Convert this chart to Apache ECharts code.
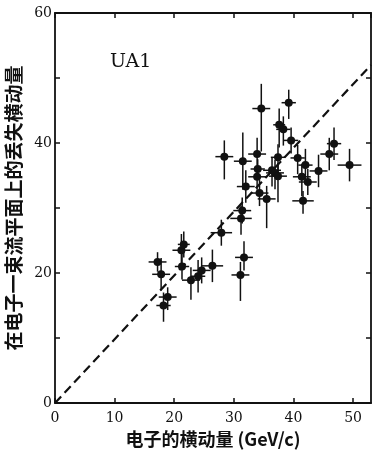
<!DOCTYPE html>
<html>
<head>
<meta charset="utf-8">
<script src="https://cdn.jsdelivr.net/npm/echarts@6/dist/echarts.min.js"></script>
<style>
html,body{margin:0;padding:0;background:#fff;}
#main{width:377px;height:454px;}
</style>
</head>
<body>
<div id="main"></div>
<script>
// electron pT vs missing pT (UA1)
var ptE   = [17.2,17.8,18.2,18.9,21.2,21.6,21.3,22.8,24.0,24.6,26.4,27.9,28.4,31.1,31.7,31.2,31.4,31.5,32.0,33.9,34.0,33.9,34.6,34.3,35.5,36.4,36.9,37.4,37.4,37.6,38.3,39.2,39.6,40.7,41.4,41.6,42.0,42.4,44.2,46.0,46.8,49.4];
var ptMiss= [21.7,19.8,15.0,16.3,23.5,24.4,21.0,18.9,19.5,20.4,21.1,26.2,37.9,19.7,22.4,28.4,29.6,37.2,33.3,38.3,36.0,34.8,45.3,32.3,31.4,35.8,35.4,34.9,37.8,42.8,42.1,46.2,40.4,37.7,34.8,31.1,36.6,34.0,35.7,38.3,39.9,36.6];
var errX  = [1.5,1.5,1.2,1.5,1.5,1.0,1.2,1.5,1.2,1.5,1.8,1.8,1.5,1.5,1.5,1.8,1.5,1.5,1.5,1.5,1.2,1.5,1.5,1.5,1.5,1.5,1.5,1.5,1.2,1.0,1.2,1.2,1.2,1.2,1.5,1.8,1.2,1.5,1.5,1.5,1.2,2.0];
var errUp = [1.5,2.5,2.0,1.5,2.5,2.0,2.0,2.0,2.5,2.0,2.5,2.0,2.5,2.0,2.5,2.0,2.0,4.4,2.5,2.5,1.5,1.5,3.8,2.0,2.0,2.0,2.0,2.0,2.0,2.5,2.0,2.0,2.0,2.0,2.0,1.5,2.5,2.0,2.5,2.5,2.5,2.5];
var errDn = [1.5,2.5,2.5,2.0,2.5,2.0,2.0,3.0,2.5,2.0,2.5,2.0,3.5,4.0,2.0,2.5,2.0,4.4,2.5,2.5,1.5,2.0,6.6,2.0,4.5,2.5,2.5,4.0,2.5,3.5,2.5,2.5,2.0,2.5,3.0,2.0,2.5,2.0,2.5,2.5,2.5,2.5];
var fitLine = [[0,0],[53,52]];
var xTicks = [0,10,20,30,40,50];
var yLabels = [0,20,40,60];

var pts = [];
for (var i=0;i<ptE.length;i++){
  pts.push([ptE[i],ptMiss[i],errX[i],errUp[i],errDn[i]]);
}

function renderErr(params, api){
  var x=api.value(0), y=api.value(1), ex=api.value(2), eu=api.value(3), ed=api.value(4);
  var c=api.coord([x,y]);
  var top=api.coord([x,y+eu]), bot=api.coord([x,y-ed]);
  var lft=api.coord([x-ex,y]), rgt=api.coord([x+ex,y]);
  var st={stroke:'#111',lineWidth:1.5};
  return {
    type:'group',
    children:[
      {type:'line',shape:{x1:top[0],y1:top[1],x2:bot[0],y2:bot[1]},style:st},
      {type:'line',shape:{x1:lft[0],y1:lft[1],x2:rgt[0],y2:rgt[1]},style:st},
      {type:'circle',shape:{cx:c[0],cy:c[1],r:4},style:{fill:'#111'}}
    ]
  };
}

var axLine={onZero:false,lineStyle:{color:'#111',width:1.8}};
var tick={inside:true,length:5,lineStyle:{color:'#111',width:1.5}};
var myChart = echarts.init(document.getElementById('main'));
var option = {
  animation:false,
  backgroundColor:'#fff',
  grid:{left:55,right:6,top:13,bottom:51,outerBoundsMode:'none',containLabel:false},
  xAxis:[{
    type:'value',min:0,max:53,interval:10,
    axisLine:axLine,axisTick:tick,
    axisLabel:{margin:8,color:'#111',fontFamily:'DejaVu Serif',fontSize:14,showMaxLabel:false,
      formatter:function(v){return xTicks.indexOf(v)>=0?String(v):'';}},
    splitLine:{show:false},
    name:'电子的横动量 (GeV/c)',nameLocation:'middle',nameGap:26,
    nameTextStyle:{color:'#111',fontSize:18,fontWeight:'bold',fontFamily:'Noto Sans CJK SC'}
  },{
    type:'value',min:0,max:53,interval:10,position:'top',
    axisLine:axLine,axisTick:tick,
    axisLabel:{show:false},splitLine:{show:false}
  }],
  yAxis:[{
    type:'value',min:0,max:60,interval:10,
    axisLine:axLine,axisTick:tick,
    axisLabel:{margin:3,color:'#111',fontFamily:'DejaVu Serif',fontSize:14,
      formatter:function(v){return yLabels.indexOf(v)>=0?String(v):'';}},
    splitLine:{show:false},
    name:'在电子一束流平面上的丢失横动量',nameLocation:'middle',nameGap:21,nameRotate:90,
    nameTextStyle:{color:'#111',fontSize:19,fontWeight:'bold',fontFamily:'Noto Sans CJK SC'}
  },{
    type:'value',min:0,max:60,interval:10,position:'right',
    axisLine:axLine,axisTick:tick,
    axisLabel:{show:false},splitLine:{show:false}
  }],
  graphic:[{
    type:'text',left:110,top:53,
    style:{text:'UA1',fontFamily:'DejaVu Serif',fontSize:19,fill:'#111'}
  }],
  series:[{
    type:'line',data:fitLine,showSymbol:false,symbol:'none',
    lineStyle:{color:'#111',width:2.2,type:[9,5]},z:2
  },{
    type:'custom',renderItem:renderErr,data:pts,z:3,
    encode:{x:0,y:1}
  }]
};
myChart.setOption(option);
</script>
</body>
</html>
